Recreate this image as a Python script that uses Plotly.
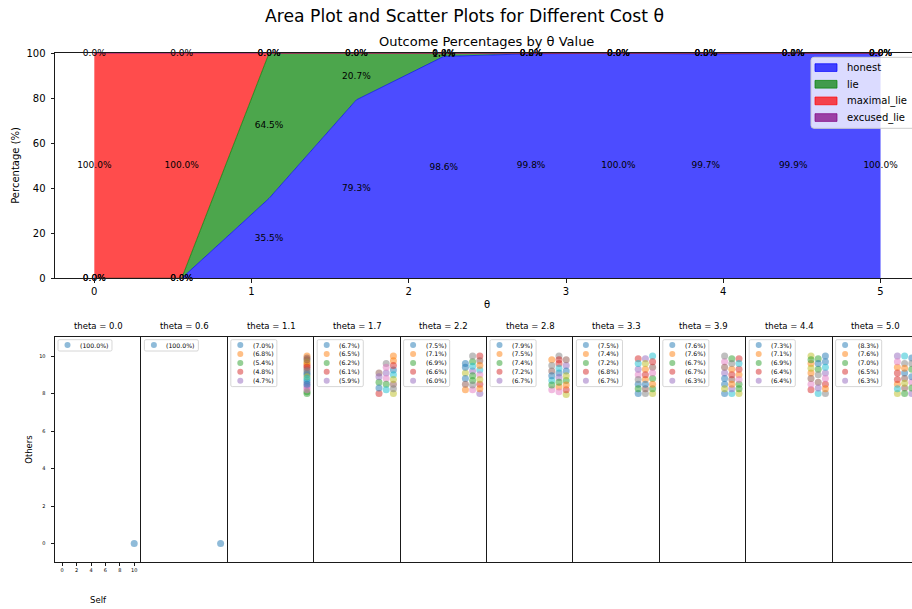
import plotly.graph_objects as go

W, H = 912, 609
# layout positions below are pixel coordinates inside a frame of FRAME_H px, placed FRAME_TOP px down
FRAME_H = 598.0
FRAME_TOP = 4.7

# ---- outcome shares (%) for each cost value theta ----
theta = [0.0, 0.5556, 1.1111, 1.6667, 2.2222, 2.7778, 3.3333, 3.8889, 4.4444, 5.0]
honest = [0.0, 0.0, 35.5, 79.3, 98.6, 99.8, 100.0, 99.7, 99.9, 100.0]
lie = [0.0, 0.0, 64.5, 20.7, 1.4, 0.2, 0.0, 0.3, 0.1, 0.0]
maximal_lie = [100.0, 100.0, 0.0, 0.0, 0.0, 0.0, 0.0, 0.0, 0.0, 0.0]
excused_lie = [0.0, 0.0, 0.0, 0.0, 0.0, 0.0, 0.0, 0.0, 0.0, 0.0]
outcome_names = ["honest", "lie", "maximal_lie", "excused_lie"]
y_ticks_area = [0, 20, 40, 60, 80, 100]
x_ticks_area = [0, 1, 2, 3, 4, 5]

# ---- (Self, Others) payoff outcomes per theta, sorted by share (%) ----
self_00 = [10]
others_00 = [0]
share_00 = [100.0]

self_06 = [10]
others_06 = [0]
share_06 = [100.0]

self_11 = [10, 10, 10, 10, 10, 10, 10, 10, 10, 10, 10, 10, 10, 10, 10, 10, 10, 10, 10, 10, 10]
others_11 = [9.1, 10.0, 8.0, 9.5, 8.4, 9.9, 8.3, 9.3, 9.7, 8.7, 9.0, 9.6, 8.1, 9.4, 8.6, 9.8, 8.2, 9.2, 8.9, 8.8, 8.5]
share_11 = [7.0, 6.8, 5.4, 4.8, 4.7, 4.6, 4.6, 4.5, 4.5, 4.4, 4.4, 4.3, 4.3, 4.2, 4.2, 4.1, 4.1, 4.0, 3.9, 3.9, 3.8]

self_17 = [10, 10, 8, 8, 9, 8, 9, 9, 10, 10, 8, 10, 9, 10, 8, 10, 9, 10, 10, 9]
others_17 = [9.25, 10.0, 8.6, 8.0, 9.1, 9.1, 8.8, 9.6, 8.0, 9.0, 8.3, 9.75, 8.5, 9.5, 8.9, 8.5, 9.4, 8.25, 8.75, 8.2]
share_17 = [6.7, 6.5, 6.2, 6.1, 5.9, 5.7, 5.5, 5.3, 5.1, 4.9, 4.8, 4.6, 4.5, 4.3, 4.2, 4.1, 4.0, 3.9, 3.8, 3.7]

self_22 = [8, 8, 9, 10, 10, 10, 9, 9, 8, 10, 8, 10, 9, 10, 9, 8, 10, 9, 10, 9, 8, 10, 9]
others_22 = [9.6, 8.2, 9.7, 10.0, 8.0, 9.75, 8.2, 10.0, 9.1, 9.25, 8.8, 9.5, 8.7, 8.5, 9.2, 8.5, 9.0, 8.45, 8.75, 9.45, 9.4, 8.25, 8.95]
share_22 = [7.5, 7.1, 6.9, 6.6, 6.0, 5.8, 5.4, 5.0, 4.7, 4.4, 4.1, 3.9, 3.7, 3.5, 3.4, 3.2, 3.0, 2.9, 2.7, 2.6, 2.4, 2.3, 2.1]

self_28 = [9, 8, 10, 9, 10, 8, 8, 9, 10, 8, 10, 9, 8, 10, 9, 10, 9, 8, 10, 9, 8, 10, 9, 9]
others_28 = [9.1, 9.8, 8.7, 9.6, 9.5, 9.2, 8.2, 10.0, 7.95, 8.7, 9.2, 8.35, 8.45, 8.2, 8.85, 9.8, 8.1, 9.5, 8.95, 9.35, 8.95, 8.45, 8.6, 9.8]
share_28 = [7.9, 7.5, 7.4, 7.2, 6.7, 5.6, 5.2, 4.9, 4.5, 4.2, 3.9, 3.7, 3.5, 3.3, 3.1, 2.9, 2.8, 2.6, 2.5, 2.3, 2.2, 2.0, 1.9, 1.8]

self_33 = [8, 9, 10, 8, 9, 10, 8, 9, 10, 10, 8, 9, 10, 10, 8, 9, 10, 8, 9, 8, 9, 10, 8, 9]
others_33 = [8.0, 9.3, 8.8, 9.85, 9.85, 9.4, 9.0, 8.0, 8.0, 10.0, 8.5, 8.75, 8.25, 9.7, 9.3, 8.25, 9.1, 8.75, 9.6, 9.6, 8.5, 8.5, 8.25, 9.0]
share_33 = [7.5, 7.4, 7.2, 6.8, 6.7, 5.7, 5.3, 4.9, 4.6, 4.3, 4.0, 3.8, 3.6, 3.4, 3.2, 3.0, 2.8, 2.7, 2.5, 2.4, 2.2, 2.1, 1.9, 1.8]

self_39 = [8, 10, 9, 10, 8, 9, 8, 8, 10, 9, 8, 9, 10, 10, 9, 8, 10, 9, 8, 10, 8, 9, 10, 9]
others_39 = [8.0, 9.0, 9.85, 9.85, 9.1, 8.75, 9.7, 10.0, 8.0, 8.0, 8.5, 9.3, 8.5, 9.3, 8.25, 9.4, 8.75, 9.6, 8.25, 9.6, 8.8, 8.5, 8.25, 9.0]
share_39 = [7.6, 7.6, 6.7, 6.7, 6.3, 5.8, 5.4, 5.0, 4.7, 4.4, 4.1, 3.9, 3.7, 3.5, 3.3, 3.1, 2.9, 2.8, 2.6, 2.4, 2.3, 2.1, 1.6, 1.5]

self_44 = [10, 8, 9, 8, 10, 9, 8, 10, 8, 9, 10, 8, 9, 10, 9, 8, 10, 9, 8, 10, 9, 10, 8]
others_44 = [10.0, 9.1, 9.85, 8.2, 9.1, 8.6, 8.5, 8.0, 10.0, 8.0, 9.7, 9.6, 9.3, 8.5, 8.3, 8.8, 8.8, 9.0, 9.35, 9.4, 9.6, 8.25, 9.8]
share_44 = [7.3, 7.1, 6.9, 6.4, 6.4, 5.8, 5.4, 5.0, 4.7, 4.4, 4.1, 3.9, 3.7, 3.5, 3.4, 3.2, 3.0, 2.9, 2.7, 2.6, 2.4, 2.3, 2.1]

self_50 = [9, 8, 10, 8, 8, 9, 10, 9, 8, 9, 10, 8, 9, 8, 10, 9, 8, 10, 9, 8, 10, 9, 10]
others_50 = [9.1, 8.5, 9.3, 8.75, 10.0, 8.3, 8.6, 9.6, 8.0, 10.0, 9.9, 9.4, 8.0, 9.1, 8.0, 8.8, 9.7, 9.6, 8.55, 8.25, 8.9, 9.35, 8.3]
share_50 = [8.3, 7.6, 7.0, 6.5, 6.3, 5.6, 5.2, 4.9, 4.6, 4.3, 4.0, 3.8, 3.6, 3.4, 3.2, 3.1, 2.9, 2.8, 2.6, 2.5, 2.3, 2.0, 1.6]

payoff_ticks = [0, 2, 4, 6, 8, 10]

panels = [
    (self_00, others_00, share_00),
    (self_06, others_06, share_06),
    (self_11, others_11, share_11),
    (self_17, others_17, share_17),
    (self_22, others_22, share_22),
    (self_28, others_28, share_28),
    (self_33, others_33, share_33),
    (self_39, others_39, share_39),
    (self_44, others_44, share_44),
    (self_50, others_50, share_50),
]

# ---- styling ----
FONT = "DejaVu Sans"
AX = "#1a1a1a"
AREA_ALPHA = 0.7
outcome_rgb = {
    "honest": (0, 0, 255),
    "lie": (0, 128, 0),
    "maximal_lie": (255, 0, 0),
    "excused_lie": (128, 0, 128),
}
TAB10 = ["#1f77b4", "#ff7f0e", "#2ca02c", "#d62728", "#9467bd",
         "#8c564b", "#e377c2", "#7f7f7f", "#bcbd22", "#17becf"]


def rgba(rgb, a):
    return f"rgba({rgb[0]},{rgb[1]},{rgb[2]},{a})"


def hex_rgba(h, a):
    h = h.lstrip("#")
    return f"rgba({int(h[0:2], 16)},{int(h[2:4], 16)},{int(h[4:6], 16)},{a})"


def px(x):
    return x / W


def py(y):
    return 1 - (y - FRAME_TOP) / FRAME_H


def rounded_box(x0, y0, x1, y1, r):
    return (f"M {px(x0 + r)},{py(y0)} L {px(x1 - r)},{py(y0)} "
            f"Q {px(x1)},{py(y0)} {px(x1)},{py(y0 + r)} "
            f"L {px(x1)},{py(y1 - r)} Q {px(x1)},{py(y1)} {px(x1 - r)},{py(y1)} "
            f"L {px(x0 + r)},{py(y1)} Q {px(x0)},{py(y1)} {px(x0)},{py(y1 - r)} "
            f"L {px(x0)},{py(y0 + r)} Q {px(x0)},{py(y0)} {px(x0 + r)},{py(y0)} Z")


CHAR_EM = {"(": 0.390, ")": 0.390, ".": 0.318, "%": 0.950}


def text_width(s, size):
    return sum(CHAR_EM.get(c, 0.636) for c in s) * size


fig = go.Figure()
shapes = []
annotations = []

# ---- stacked area of outcome shares ----
series = {"honest": honest, "lie": lie, "maximal_lie": maximal_lie, "excused_lie": excused_lie}
for name in outcome_names:
    c = rgba(outcome_rgb[name], AREA_ALPHA)
    fig.add_trace(go.Scatter(
        x=theta, y=series[name], name=name, stackgroup="outcomes", mode="lines",
        line=dict(color=c, width=1), fillcolor=c, xaxis="x", yaxis="y",
        hoverinfo="skip", showlegend=False))

# percentage labels in the middle of each band
base = [0.0] * len(theta)
for name in outcome_names:
    vals = series[name]
    mid = [b + v / 2 for b, v in zip(base, vals)]
    base = [b + v for b, v in zip(base, vals)]
    fig.add_trace(go.Scatter(
        x=theta, y=mid, mode="text", text=[f"{v:.1f}%" for v in vals],
        textposition="middle center", textfont=dict(family=FONT, size=9, color="black"),
        cliponaxis=False, xaxis="x", yaxis="y", hoverinfo="skip", showlegend=False))

layout = dict(
    width=W, height=H, margin=dict(l=0, r=0, t=0, b=0),
    paper_bgcolor="white", plot_bgcolor="white", showlegend=False,
    font=dict(family=FONT, color="black"),
)

layout["xaxis"] = dict(
    domain=[px(55), 1.0], range=[-0.25, 5.2], tickvals=x_ticks_area,
    ticks="outside", ticklen=3.5, tickwidth=0.8, tickcolor=AX,
    showline=True, linecolor=AX, linewidth=1, mirror=True,
    showgrid=False, zeroline=False, tickfont=dict(size=10, color="black"), anchor="y")
layout["yaxis"] = dict(
    domain=[py(278), py(53)], range=[0, 100], tickvals=y_ticks_area,
    ticks="outside", ticklen=3.5, tickwidth=0.8, tickcolor=AX,
    showline=True, linecolor=AX, linewidth=1, mirror=False,
    showgrid=False, zeroline=False, tickfont=dict(size=10, color="black"),
    ticklabelstandoff=3, anchor="x")

# area legend
shapes.append(dict(type="path", xref="paper", yref="paper", layer="above",
                   path=rounded_box(811, 57, 930, 128, 3),
                   fillcolor="rgba(255,255,255,0.8)", line=dict(color="#cccccc", width=1)))
for i, name in enumerate(outcome_names):
    cy = 67.3 + i * 16.65
    c = rgba(outcome_rgb[name], AREA_ALPHA)
    shapes.append(dict(type="rect", xref="paper", yref="paper", layer="above",
                       x0=px(815), x1=px(837), y0=py(cy + 3.85), y1=py(cy - 3.85),
                       fillcolor=c, line=dict(color=c, width=1)))
    annotations.append(dict(text=name, x=px(844.5), y=py(cy), xref="paper", yref="paper",
                            xanchor="left", yanchor="middle", showarrow=False,
                            font=dict(family=FONT, size=10, color="black")))

# ---- payoff scatter panels ----
PANEL_L, PANEL_W, PANEL_TOP, PANEL_BOT = 55.0, 86.4, 337.0, 562.0
LEG_FONT = 6.2
for k, (sx, oy, sh) in enumerate(panels):
    n = k + 2
    left = PANEL_L + k * PANEL_W
    right = min(left + PANEL_W, W)
    xmax = -1 + (right - left) / PANEL_W * 12
    colors = [TAB10[i % 10] for i in range(len(sx))]
    fig.add_trace(go.Scatter(
        x=sx, y=oy, mode="markers",
        marker=dict(size=7, color=colors, opacity=0.5, line=dict(width=0)),
        xaxis=f"x{n}", yaxis=f"y{n}", hoverinfo="skip", showlegend=False))

    first = k == 0
    layout[f"xaxis{n}"] = dict(
        domain=[px(left), 1.0 if right >= W else px(right)], range=[-1, xmax],
        tickvals=payoff_ticks, ticks="outside" if first else "", showticklabels=first,
        ticklen=3, tickwidth=0.8, tickcolor=AX, tickfont=dict(size=5, color="black"),
        showline=True, linecolor=AX, linewidth=1, mirror=True,
        showgrid=False, zeroline=False, anchor=f"y{n}")
    layout[f"yaxis{n}"] = dict(
        domain=[py(PANEL_BOT), py(PANEL_TOP)], range=[-1, 11],
        tickvals=payoff_ticks, ticks="outside" if first else "", showticklabels=first,
        ticklen=3.5, tickwidth=0.8, tickcolor=AX, tickfont=dict(size=5, color="black"),
        ticklabelstandoff=4,
        showline=True, linecolor=AX, linewidth=1, mirror=False,
        showgrid=False, zeroline=False, anchor=f"x{n}")

    annotations.append(dict(text=f"theta = {theta[k]:.1f}", x=px(left + PANEL_W / 2), y=py(325.5),
                            xref="paper", yref="paper", xanchor="center", yanchor="middle",
                            showarrow=False, font=dict(family=FONT, size=8.5, color="black")))

    # per-panel legend with the five most frequent outcomes
    labels = [f"({s:.1f}%)" for s in sh[:5]]
    tw = max(text_width(t, LEG_FONT) for t in labels)
    bx0, by0 = left + 3, 339.4
    bx1, by1 = left + 24 + tw + 4.5, 339.4 + len(labels) * 8.9 + 2.4
    shapes.append(dict(type="path", xref="paper", yref="paper", layer="above",
                       path=rounded_box(bx0, by0, bx1, by1, 1.5),
                       fillcolor="rgba(255,255,255,0.8)", line=dict(color="#cccccc", width=0.8)))
    for i, t in enumerate(labels):
        cy = by0 + 5.4 + i * 8.9
        shapes.append(dict(type="circle", xref="paper", yref="paper", layer="above",
                           xsizemode="pixel", ysizemode="pixel",
                           xanchor=px(left + 12.5), yanchor=py(cy),
                           x0=-3, x1=3, y0=-3, y1=3,
                           fillcolor=hex_rgba(TAB10[i % 10], 0.5), line=dict(width=0)))
        annotations.append(dict(text=t, x=px(left + 23), y=py(cy), xref="paper", yref="paper",
                                xanchor="left", yanchor="middle", showarrow=False,
                                font=dict(family=FONT, size=LEG_FONT, color="black")))

# ---- titles and axis labels ----
annotations += [
    dict(text="Area Plot and Scatter Plots for Different Cost θ", x=px(465), y=py(16),
         font=dict(family=FONT, size=17.2, color="black")),
    dict(text="Outcome Percentages by θ Value", x=px(487), y=py(41.5),
         font=dict(family=FONT, size=13, color="black")),
    dict(text="Percentage (%)", x=px(16), y=py(165.5), textangle=-90,
         font=dict(family=FONT, size=10, color="black")),
    dict(text="θ", x=px(487), y=py(304), font=dict(family=FONT, size=10, color="black")),
    dict(text="Others", x=px(29), y=py(449.5), textangle=-90,
         font=dict(family=FONT, size=8.5, color="black")),
    dict(text="Self", x=px(98), y=py(600), font=dict(family=FONT, size=8.5, color="black")),
]
for a in annotations[-6:]:
    a.update(xref="paper", yref="paper", xanchor="center", yanchor="middle", showarrow=False)

layout["shapes"] = shapes
layout["annotations"] = annotations
fig.update_layout(**layout)

fig.write_html("out.html")
